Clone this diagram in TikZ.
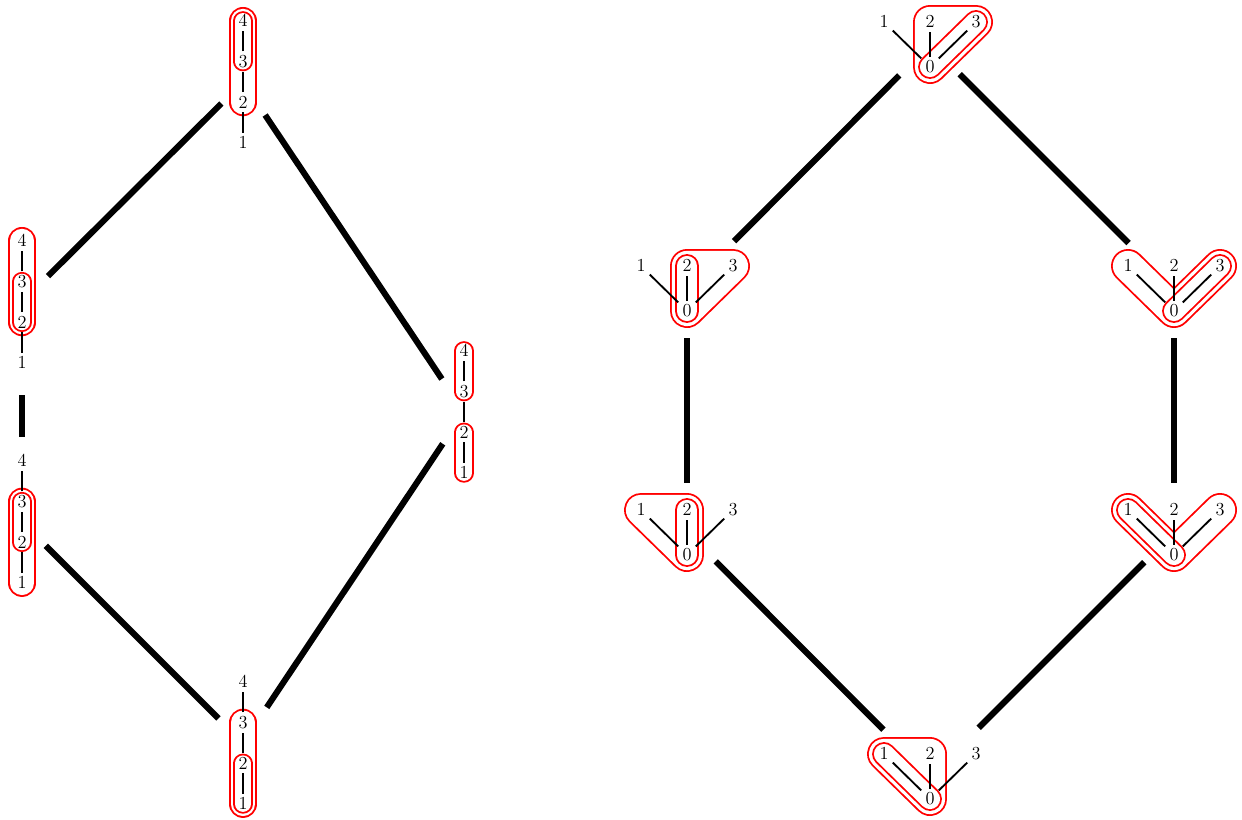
\documentclass[tikz,border=0pt]{standalone}
\usetikzlibrary{backgrounds}
\tikzset{
  lab/.style={inner sep=2.6pt, font=\large},
  edge/.style={line width=1.2pt},
  link/.style={line width=4pt},
  rim/.style={draw=red, line width=#1+1.2pt, line join=round, line cap=round},
  hole/.style={draw=white, line width=#1-1.2pt, line join=round, line cap=round},
}
\newcommand{\ringline}[2]{\path[rim=#1] #2; \path[hole=#1] #2;}
\newcommand{\ringarea}[2]{\path[rim=#1,fill=red] #2; \path[hole=#1,fill=white] #2;}
% ring widths: chains, stars
\def\wout{17pt}
\def\win{11.5pt}
\def\sout{21pt}
\def\sin{14.4pt}
\begin{document}
\begin{tikzpicture}[x=0.023cm,y=-0.023cm]
		\useasboundingbox (0,0) rectangle (1242,820);
		% chains
		\foreach \c/\x/\y in {t/243/143, u/22/363, w/22/583, r/464/473, b/243/804}{
		\foreach \k in {1,...,4}
		\node[lab] (\c\k) at (\x,{\y-40.7*(\k-1)}) {$\k$};
		\draw[edge] (\c1)--(\c2) (\c2)--(\c3) (\c3)--(\c4);
		\coordinate (\c) at (\x,\y-61);
		}
		% stars
		\foreach \s/\x/\y in {p/930/67, ml/687/311, mr/1174/311, ll/687/555, lr/1174/555, bt/930/799}{
		\node[lab] (\s0) at (\x,\y) {$0$};
		\node[lab] (\s1) at (\x-46,\y-45) {$1$};
		\node[lab] (\s2) at (\x,\y-45) {$2$};
		\node[lab] (\s3) at (\x+46,\y-45) {$3$};
		\draw[edge] (\s0)--(\s1) (\s0)--(\s2) (\s0)--(\s3);
		\coordinate (\s) at (\x,\y-22.5);
		}
		% links
		\draw[link, shorten <=20pt, shorten >=24pt] (t)--(u);
		\draw[link, shorten <=26pt, shorten >=26pt] (t)--(r);
		\draw[link, shorten <=61pt, shorten >=55.6pt] (u)--(w);
		\draw[link, shorten <=22pt, shorten >=22.7pt] (w)--(b);
		\draw[link, shorten <=25pt, shorten >=28pt] (r)--(b);
		\draw[link, shorten <=28.5pt, shorten >=43.7pt] (p)--(ml);
		\draw[link, shorten <=27.5pt, shorten >=42pt] (p)--(mr);
		\draw[link, shorten <=32.4pt, shorten >=32.4pt] (ml)--(ll);
		\draw[link, shorten <=32.4pt, shorten >=32.4pt] (mr)--(lr);
		\draw[link, shorten <=26.6pt, shorten >=43.2pt] (ll)--(bt);
		\draw[link, shorten <=27.5pt, shorten >=45pt] (lr)--(bt);
		% red rings
		\begin{pgfonlayer}{background}
		\ringline{\wout}{(t4.center)--(t2.center)}
		\ringline{\win}{(t4.center)--(t3.center)}
		\ringline{\wout}{(u4.center)--(u2.center)}
		\ringline{\win}{(u3.center)--(u2.center)}
		\ringline{\wout}{(w3.center)--(w1.center)}
		\ringline{\win}{(w3.center)--(w2.center)}
		\ringline{\win}{(r4.center)--(r3.center)}
		\ringline{\win}{(r2.center)--(r1.center)}
		\ringline{\wout}{(b3.center)--(b1.center)}
		\ringline{\win}{(b2.center)--(b1.center)}
		\ringarea{\sout}{(p0.center)--(p2.center)--(p3.center)--cycle}
		\ringline{\sin}{(p0.center)--(p3.center)}
		\ringarea{\sout}{(ml0.center)--(ml2.center)--(ml3.center)--cycle}
		\ringline{\sin}{(ml0.center)--(ml2.center)}
		\ringline{\sout}{(mr1.center)--(mr0.center)--(mr3.center)}
		\ringline{\sin}{(mr0.center)--(mr3.center)}
		\ringarea{\sout}{(ll0.center)--(ll1.center)--(ll2.center)--cycle}
		\ringline{\sin}{(ll0.center)--(ll2.center)}
		\ringline{\sout}{(lr1.center)--(lr0.center)--(lr3.center)}
		\ringline{\sin}{(lr0.center)--(lr1.center)}
		\ringarea{\sout}{(bt0.center)--(bt1.center)--(bt2.center)--cycle}
		\ringline{\sin}{(bt0.center)--(bt1.center)}
		\end{pgfonlayer}
\end{tikzpicture}
\end{document}
